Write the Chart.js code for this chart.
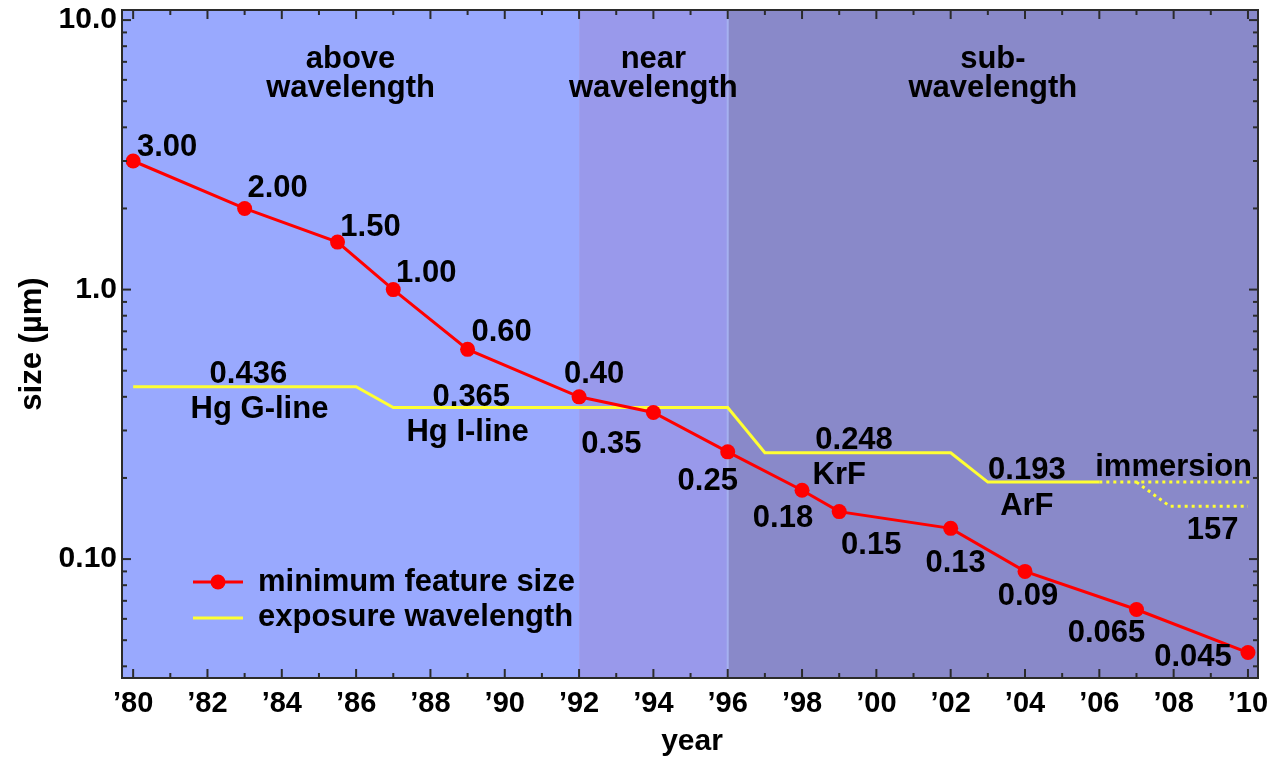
<!DOCTYPE html>
<html>
<head>
<meta charset="utf-8">
<script src="https://cdn.jsdelivr.net/npm/chart.js@4.4.0/dist/chart.umd.min.js"></script>
<style>
  html, body { margin: 0; padding: 0; background: #fff; }
</style>
</head>
<body>
<canvas id="chart" width="1271" height="757"></canvas>
<script>
// minimum feature size (red)
const featureYears = [1980, 1983, 1985.5, 1987, 1989, 1992, 1994, 1996, 1998, 1999, 2002, 2004, 2007, 2010];
const featureSize = [3.0, 2.0, 1.5, 1.0, 0.6, 0.4, 0.35, 0.25, 0.18, 0.15, 0.13, 0.09, 0.065, 0.045];
const featureLabels = ['3.00', '2.00', '1.50', '1.00', '0.60', '0.40', '0.35', '0.25', '0.18', '0.15', '0.13', '0.09', '0.065', '0.045'];

// exposure wavelength (yellow)
const waveYears = [1980, 1986, 1987, 1996, 1997, 2002, 2003, 2006];
const waveLength = [0.436, 0.436, 0.365, 0.365, 0.248, 0.248, 0.193, 0.193];
const immersionYears = [2006, 2010.1];
const immersionLength = [0.193, 0.193];
const f2Years = [2007, 2007.9, 2010];
const f2Length = [0.193, 0.157, 0.157];

// wavelength annotations: text, year, value
const waveNotes = [
    ['0.436', 1983.1, 0.436], ['Hg G-line', 1983.4, 0.436],
    ['0.365', 1989.1, 0.365], ['Hg I-line', 1989.0, 0.365],
    ['0.248', 1999.4, 0.248], ['KrF', 1999.0, 0.248],
    ['0.193', 2004.05, 0.193], ['ArF', 2004.05, 0.193],
    ['immersion', 2008.0, 0.193], ['157', 2009.05, 0.157]
];

// axes
const xTickYears = [1980, 1982, 1984, 1986, 1988, 1990, 1992, 1994, 1996, 1998, 2000, 2002, 2004, 2006, 2008, 2010];
const xTickLabels = ['’80', '’82', '’84', '’86', '’88', '’90', '’92', '’94', '’96', '’98', '’00', '’02', '’04', '’06', '’08', '’10'];
const yTickValues = [0.1, 1, 10];
const yTickLabels = ['0.10', '1.0', '10.0'];

// regions
const regionEdges = [1992, 1996];
const regionNames = [['above', 'wavelength'], ['near', 'wavelength'], ['sub-', 'wavelength']];

// styling
const FONT = '"Liberation Sans", Arial, Helvetica, sans-serif';
const regionColors = ['#99a9fe', '#9999eb', '#8989c9'];
const featureLabelOffsets = [[34, -14], [33, -20], [33, -15], [33, -16], [34, -17], [15, -22], [-42, 32], [-20, 30], [-19, 28], [32, 34], [5, 35], [3, 25], [-30, 24], [-55, 5]];
const waveNoteOffsets = [-12, 23, -10, 25, -12, 23, -12, 24, -15, 24];

function bold(px) { return 'bold ' + px + 'px ' + FONT; }

function seg(ctx, x1, y1, x2, y2) {
    ctx.beginPath();
    ctx.moveTo(x1, y1);
    ctx.lineTo(x2, y2);
    ctx.stroke();
}

const decor = {
    id: 'decor',
    beforeDatasetsDraw(chart) {
        const ctx = chart.ctx;
        const a = chart.chartArea;
        const x = chart.scales.x;
        const b = [a.left, x.getPixelForValue(regionEdges[0]), x.getPixelForValue(regionEdges[1]), a.right];
        ctx.save();
        for (let i = 0; i < 3; i++) {
            ctx.fillStyle = regionColors[i];
            ctx.fillRect(b[i], a.top, b[i + 1] - b[i], a.bottom - a.top);
        }
        ctx.strokeStyle = '#a6b1f0';
        ctx.lineWidth = 2;
        seg(ctx, b[2], a.top, b[2], a.bottom);

        ctx.fillStyle = '#000';
        ctx.font = bold(31);
        ctx.textAlign = 'center';
        ctx.textBaseline = 'middle';
        for (let i = 0; i < 3; i++) {
            const cx = (b[i] + b[i + 1]) / 2;
            ctx.fillText(regionNames[i][0], cx, a.top + 49);
            ctx.fillText(regionNames[i][1], cx, a.top + 78);
        }
        ctx.restore();
    },
    afterDatasetsDraw(chart) {
        const ctx = chart.ctx;
        const a = chart.chartArea;
        const x = chart.scales.x;
        const y = chart.scales.y;
        ctx.save();

        // frame and inward ticks
        ctx.strokeStyle = '#2b2b2b';
        ctx.lineWidth = 2;
        ctx.strokeRect(a.left, a.top, a.right - a.left, a.bottom - a.top);
        for (let yr = 1980; yr <= 2010; yr++) {
            const px = x.getPixelForValue(yr);
            const len = yr % 2 === 0 ? 9 : 5;
            seg(ctx, px, a.bottom, px, a.bottom - len);
            seg(ctx, px, a.top, px, a.top + len);
        }
        for (let d = -2; d <= 1; d++) {
            for (let m = 1; m <= 9; m++) {
                const v = m * Math.pow(10, d);
                if (v < y.min || v > y.max) continue;
                const py = y.getPixelForValue(v);
                const len = m === 1 ? 9 : 5;
                seg(ctx, a.left, py, a.left + len, py);
                seg(ctx, a.right, py, a.right - len, py);
            }
        }

        // value labels
        ctx.fillStyle = '#000';
        ctx.font = bold(31);
        ctx.textAlign = 'center';
        ctx.textBaseline = 'middle';
        featureYears.forEach((yr, i) => {
            const px = x.getPixelForValue(yr) + featureLabelOffsets[i][0];
            const py = y.getPixelForValue(featureSize[i]) + featureLabelOffsets[i][1];
            ctx.fillText(featureLabels[i], px, py);
        });
        waveNotes.forEach((n, i) => {
            ctx.fillText(n[0], x.getPixelForValue(n[1]), y.getPixelForValue(n[2]) + waveNoteOffsets[i]);
        });

        // legend
        const lx = a.left + 71;
        ctx.lineWidth = 3;
        ctx.strokeStyle = '#ff0000';
        seg(ctx, lx, 582, lx + 50, 582);
        ctx.fillStyle = '#ff0000';
        ctx.beginPath();
        ctx.arc(lx + 25, 582, 7.5, 0, Math.PI * 2);
        ctx.fill();
        ctx.strokeStyle = '#ffff33';
        seg(ctx, lx, 618, lx + 50, 618);
        ctx.fillStyle = '#000';
        ctx.textAlign = 'left';
        ctx.fillText(chart.data.datasets[0].label, lx + 65, 582);
        ctx.fillText(chart.data.datasets[1].label, lx + 65, 617);

        // axis titles
        ctx.textAlign = 'center';
        ctx.font = bold(30);
        ctx.fillText('year', (a.left + a.right) / 2 + 2, 742);
        ctx.font = bold(31);
        ctx.translate(32, 344);
        ctx.rotate(-Math.PI / 2);
        ctx.fillText('size (µm)', 0, 0);
        ctx.restore();
    }
};

const toXY = (xs, ys) => xs.map((v, i) => ({x: v, y: ys[i]}));
const yellow = '#ffff33';

new Chart(document.getElementById('chart'), {
    type: 'line',
    data: {
        datasets: [{
            label: 'minimum feature size',
            data: toXY(featureYears, featureSize),
            borderColor: '#ff0000',
            backgroundColor: '#ff0000',
            borderWidth: 3,
            pointRadius: 7.5,
            pointBorderWidth: 0,
            order: 0
        }, {
            label: 'exposure wavelength',
            data: toXY(waveYears, waveLength),
            borderColor: yellow,
            borderWidth: 3,
            pointRadius: 0,
            order: 1
        }, {
            label: 'immersion',
            data: toXY(immersionYears, immersionLength),
            borderColor: yellow,
            borderWidth: 3,
            borderDash: [3, 4],
            pointRadius: 0,
            order: 1
        }, {
            label: '157',
            data: toXY(f2Years, f2Length),
            borderColor: yellow,
            borderWidth: 3,
            borderDash: [3, 4],
            pointRadius: 0,
            order: 1
        }]
    },
    options: {
        responsive: false,
        animation: false,
        layout: { padding: { left: 0, top: 10, right: 13, bottom: 0 } },
        plugins: {
            legend: { display: false },
            tooltip: { enabled: false }
        },
        scales: {
            x: {
                type: 'linear',
                min: 1979.7,
                max: 2010.27,
                grid: { display: false, drawTicks: false },
                border: { display: false },
                afterBuildTicks: s => { s.ticks = xTickYears.map(v => ({value: v})); },
                afterFit: s => { s.height = 79; s.paddingLeft = 0; s.paddingRight = 0; },
                ticks: {
                    autoSkip: false,
                    maxRotation: 0,
                    padding: 9,
                    color: '#000',
                    font: { family: FONT, size: 29, weight: 'bold' },
                    callback: v => xTickLabels[xTickYears.indexOf(v)]
                }
            },
            y: {
                type: 'logarithmic',
                min: 0.0362,
                max: 10.9,
                grid: { display: false, drawTicks: false },
                border: { display: false },
                afterBuildTicks: s => { s.ticks = yTickValues.map(v => ({value: v})); },
                afterFit: s => { s.width = 122; s.paddingTop = 0; s.paddingBottom = 0; },
                ticks: {
                    autoSkip: false,
                    padding: 5,
                    color: '#000',
                    font: { family: FONT, size: 30, weight: 'bold' },
                    callback: v => yTickLabels[yTickValues.indexOf(v)]
                }
            }
        }
    },
    plugins: [decor]
});
</script>
</body>
</html>
